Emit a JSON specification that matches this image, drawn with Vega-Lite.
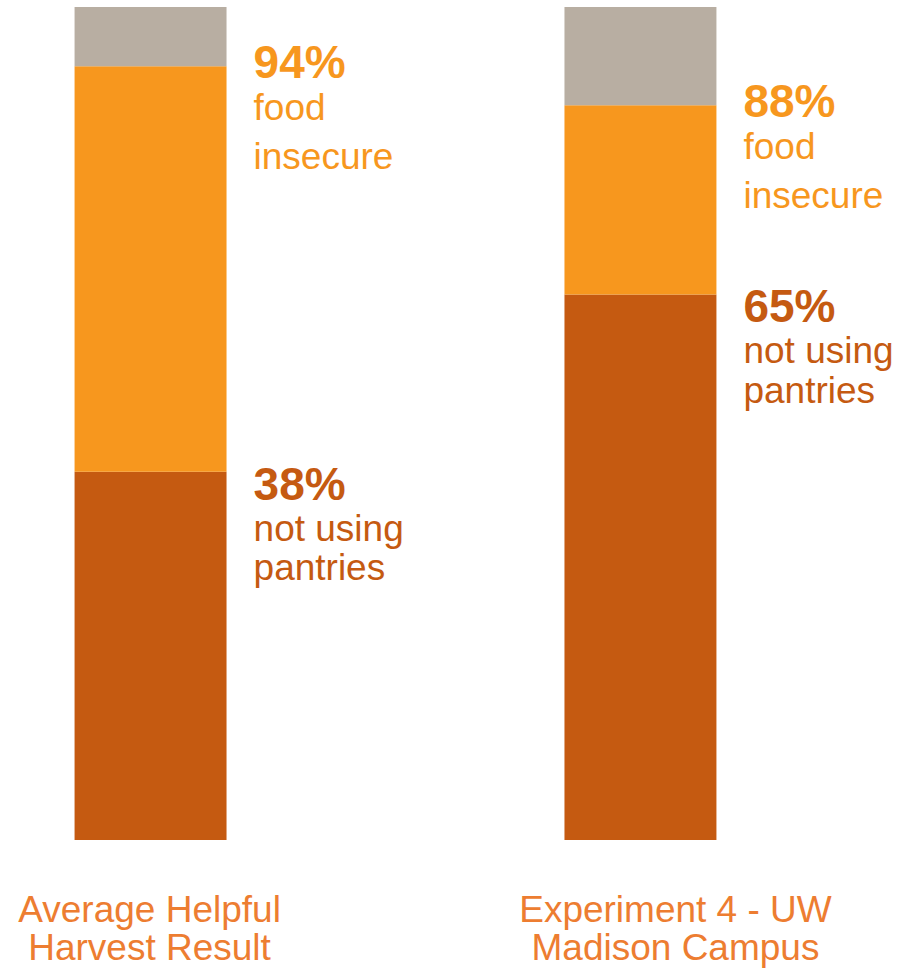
{
  "$schema": "https://vega.github.io/schema/vega-lite/v6.json",
  "autosize": "none",
  "width": 791,
  "height": 833,
  "padding": {"top": 7, "left": 0, "right": 132, "bottom": 128},
  "background": "white",
  "config": {"view": {"stroke": null}, "font": "Liberation Sans"},
  "data": {"values": [
    {"group": "Average Helpful Harvest Result", "segment": "not using pantries", "start": 0, "end": 44.2, "pct": "38%", "desc": "not using\npantries"},
    {"group": "Average Helpful Harvest Result", "segment": "food insecure", "start": 44.2, "end": 92.9, "pct": "94%", "desc": "food\ninsecure"},
    {"group": "Average Helpful Harvest Result", "segment": "other", "start": 92.9, "end": 100, "pct": "", "desc": ""},
    {"group": "Experiment 4 - UW Madison Campus", "segment": "not using pantries", "start": 0, "end": 65.5, "pct": "65%", "desc": "not using\npantries"},
    {"group": "Experiment 4 - UW Madison Campus", "segment": "food insecure", "start": 65.5, "end": 88.2, "pct": "88%", "desc": "food\ninsecure"},
    {"group": "Experiment 4 - UW Madison Campus", "segment": "other", "start": 88.2, "end": 100, "pct": "", "desc": ""}
  ]},
  "encoding": {
    "x": {
      "field": "group", "type": "nominal", "sort": null,
      "scale": {"paddingInner": 0.6898, "paddingOuter": 0.1522},
      "axis": {
        "title": null, "domain": false, "ticks": false, "grid": false,
        "labelAngle": 0, "labelFont": "Liberation Sans", "labelFontSize": 37,
        "labelColor": "#ED7D31", "labelLineHeight": 38.3, "labelPadding": 52.5,
        "labelLimit": 0, "labelOverlap": false, "labelBound": false,
        "labelExpr": "datum.value == 'Average Helpful Harvest Result' ? ['Average Helpful', 'Harvest Result'] : ['Experiment 4 - UW', 'Madison Campus']",
        "labelOffset": {"condition": {"test": "datum.value == 'Experiment 4 - UW Madison Campus'", "value": 35}, "value": -1}
      }
    }
  },
  "layer": [
    {
      "mark": {"type": "bar"},
      "encoding": {
        "y": {"field": "start", "type": "quantitative", "scale": {"domain": [0, 100], "nice": false}, "axis": null},
        "y2": {"field": "end"},
        "color": {
          "field": "segment", "type": "nominal",
          "scale": {"domain": ["not using pantries", "food insecure", "other"], "range": ["#C55A11", "#F7971E", "#B8AEA2"]},
          "legend": null
        }
      }
    },
    {
      "transform": [{"filter": "datum.segment == 'food insecure'"}],
      "mark": {"type": "text", "align": "left", "baseline": "alphabetic", "dx": 103, "dy": 11.7, "font": "Liberation Sans", "fontSize": 46, "fontWeight": "bold", "color": "#F7971E"},
      "encoding": {"y": {"field": "end", "type": "quantitative"}, "text": {"field": "pct"}}
    },
    {
      "transform": [{"filter": "datum.segment == 'food insecure'"}],
      "mark": {"type": "text", "align": "left", "baseline": "alphabetic", "dx": 103, "dy": 54, "font": "Liberation Sans", "fontSize": 37, "lineHeight": 49, "lineBreak": "\n", "color": "#F7971E"},
      "encoding": {"y": {"field": "end", "type": "quantitative"}, "text": {"field": "desc"}}
    },
    {
      "transform": [{"filter": "datum.segment == 'not using pantries'"}],
      "mark": {"type": "text", "align": "left", "baseline": "alphabetic", "dx": 103, "dy": 27.7, "font": "Liberation Sans", "fontSize": 46, "fontWeight": "bold", "color": "#C55A11"},
      "encoding": {"y": {"field": "end", "type": "quantitative"}, "text": {"field": "pct"}}
    },
    {
      "transform": [{"filter": "datum.segment == 'not using pantries'"}],
      "mark": {"type": "text", "align": "left", "baseline": "alphabetic", "dx": 103, "dy": 69, "font": "Liberation Sans", "fontSize": 37, "lineHeight": 39.5, "lineBreak": "\n", "color": "#C55A11"},
      "encoding": {"y": {"field": "end", "type": "quantitative"}, "text": {"field": "desc"}}
    }
  ]
}
